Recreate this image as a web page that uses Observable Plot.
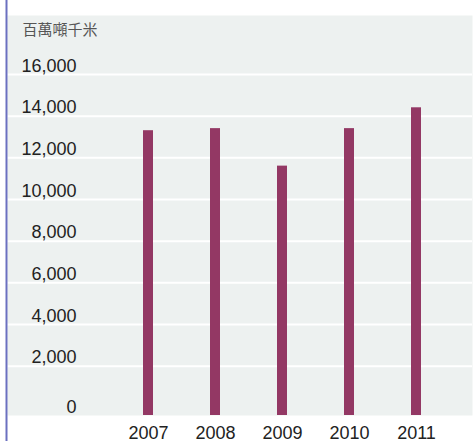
<!DOCTYPE html>
<html>
<head>
<meta charset="utf-8">
<script src="https://cdn.jsdelivr.net/npm/d3@7"></script>
<script src="https://cdn.jsdelivr.net/npm/@observablehq/plot@0.6"></script>
<style>
  html, body { margin: 0; padding: 0; background: #fff; }
</style>
</head>
<body>
<div id="chart"></div>
<script>
const years = ["2007", "2008", "2009", "2010", "2011"];
const values = [13300, 13400, 11600, 13400, 14400];
const yTicks = [0, 2000, 4000, 6000, 8000, 10000, 12000, 14000, 16000];
const unitLabel = "百萬噸千米";
const yDomain = [-370, 18830];

const data = years.map((year, i) => ({year, value: values[i]}));
const gridTicks = yTicks.filter(t => t !== 0);
const zeroTick = yTicks.filter(t => t === 0);
const fmt = d3.format(",");

const chart = Plot.plot({
  width: 473,
  height: 441,
  marginLeft: 7,
  marginRight: 1,
  marginTop: 15,
  marginBottom: 26,
  style: {fontFamily: "'Liberation Sans', Arial, sans-serif", fontSize: "18px", color: "#222", background: "transparent"},
  x: {type: "band", domain: years, paddingInner: 0.853, paddingOuter: 1.346, align: 0.727, label: null},
  y: {domain: yDomain, label: null, axis: null},
  marks: [
    Plot.frame({fill: "#edf1f0"}),
    Plot.ruleY(gridTicks, {stroke: "#ffffff", strokeWidth: 2}),
    Plot.barY(data, {x: "year", y1: yDomain[0], y2: "value", fill: "#933864"}),
    Plot.text(gridTicks, {y: d => d, text: d => fmt(d), frameAnchor: "left", dx: 69, dy: -8.5, textAnchor: "end", fill: "#222", fontSize: 18}),
    Plot.text(zeroTick, {y: d => d, text: d => fmt(d), frameAnchor: "left", dx: 69, dy: -1, textAnchor: "end", fill: "#222", fontSize: 18}),
    Plot.text([unitLabel], {text: d => d, frameAnchor: "top-left", dx: 15, dy: 9, textAnchor: "start", fill: "#555", fontSize: 15, fontFamily: "'Noto Sans CJK TC', sans-serif"}),
    Plot.axisX({tickSize: 0, tickPadding: 10.5, fontSize: 18, fill: "#222"}),
    Plot.frame({anchor: "left", stroke: "#6b70c0", strokeWidth: 2, insetTop: -15, insetBottom: -26, dx: -1})
  ]
});
document.getElementById("chart").appendChild(chart);
</script>
</body>
</html>
